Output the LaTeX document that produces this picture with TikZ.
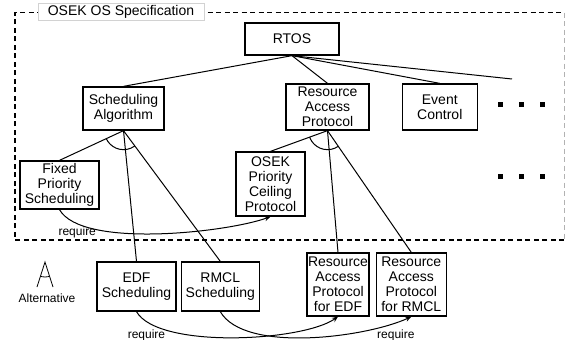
\documentclass[tikz,border=0pt]{standalone}
\usepackage{fontspec}
\setmainfont{Liberation Sans}
\usetikzlibrary{positioning,arrows.meta}

\begin{document}
\begin{tikzpicture}[x=1pt, y=1pt,
  font=\fontsize{14}{15}\selectfont,
  feat/.style={draw, line width=1.3pt, align=center, inner sep=1pt},
  edge/.style={line width=1pt},
  req/.style={-{Stealth[length=6pt, width=5pt]}, line width=1pt, looseness=0.55},
  wlab/.style={font=\fontsize{12}{13}\selectfont, inner sep=1pt},
  frame/.style={dash pattern=on 5pt off 3.5pt, line width=1.3pt}]
\useasboundingbox (0,0) rectangle (566,-340);
% feature boundary
\draw[frame] (564,-240) -- (15,-240) -- (15,-12.5) -- (564,-12.5);
\draw[frame, gray!60, line width=0.8pt] (564,-12.5) -- (564,-240);
\node[draw=gray!35, fill=white, inner sep=1.5pt, minimum width=166pt, minimum height=17pt] (spec) at (121,-11.5) {OSEK OS Specification};
% features
\node[feat, minimum width=94pt, minimum height=32pt] (rtos) at (292,-39) {RTOS};
\node[feat, minimum width=81pt, minimum height=43pt] (sched) at (123.5,-108.5) {Scheduling\\Algorithm};
\node[feat, minimum width=83pt, minimum height=46pt] (rap) at (327.5,-107) {Resource\\Access\\Protocol};
\node[feat, minimum width=75pt, minimum height=46pt, right=32pt of rap] (event) {Event\\Control};
\node (moreA) at (521.5,-104) {\rule{5pt}{5pt}\hspace{16pt}\rule{5pt}{5pt}\hspace{16pt}\rule{5pt}{5pt}};
\node (moreB) at (521.5,-176.5) {\rule{5pt}{5pt}\hspace{16pt}\rule{5pt}{5pt}\hspace{16pt}\rule{5pt}{5pt}};
\coordinate (moreTop) at (512,-79);
\node[feat, minimum width=79pt, minimum height=48pt] (fixed) at (59.5,-185) {Fixed\\Priority\\Scheduling};
\node[feat, minimum width=69pt, minimum height=64pt] (pcp) at (270.5,-184) {OSEK\\Priority\\Ceiling\\Protocol};
\node[feat, minimum width=79pt, minimum height=49pt] (edf) at (136.5,-286.5) {EDF\\Scheduling};
\node[feat, minimum width=78pt, minimum height=49pt, right=4pt of edf] (rmcl) {RMCL\\Scheduling};
\node[feat, minimum width=62pt, minimum height=63pt] (rapedf) at (338,-284.5) {Resource\\Access\\Protocol\\for EDF};
\node[feat, minimum width=70pt, minimum height=63pt, right=6pt of rapedf] (raprmcl) {Resource\\Access\\Protocol\\for RMCL};
% tree edges
\draw[edge] (rtos.south) -- (sched.north);
\draw[edge] (rtos.south) -- (rap.north);
\draw[edge] (rtos.south) -- (event.north);
\draw[edge] (rtos.south) -- (moreTop);
\draw[edge] (sched.south) -- (fixed.north);
\draw[edge] (sched.south) -- (edf.north);
\draw[edge] (sched.south) -- (rmcl.north);
\draw[edge] (rap.south) -- (pcp.north);
\draw[edge] (rap.south) -- (rapedf.north);
\draw[edge] (rap.south) -- (raprmcl.north);
% alternative arcs
\begin{scope}
  \clip (sched.south) -- (fixed.north) -- (rmcl.north) -- cycle;
  \draw[edge] (sched.south) circle[radius=19pt];
\end{scope}
\begin{scope}
  \clip (rap.south) -- (pcp.north) -- (raprmcl.north) -- cycle;
  \draw[edge] (rap.south) circle[radius=19pt];
\end{scope}
% require relations
\draw[req] (fixed.south) to[out=-60, in=-160] node[wlab, pos=0.15, below=2pt]{require} (pcp.south);
\draw[req] (edf.south) to[out=-60, in=-145] node[wlab, pos=0.1, below=7pt]{require} (rapedf.south);
\draw[req, looseness=0.65] (rmcl.south) to[out=-60, in=-155] node[wlab, pos=0.9, below=6pt]{require} (raprmcl.south);
% legend
\coordinate (altTop) at (45,-262);
\coordinate (altL) at (37,-287);
\coordinate (altR) at (53,-287);
\draw[line width=0.8pt] (altL) -- (altTop) -- (altR);
\begin{scope}
  \clip (altTop) -- (altL) -- (altR) -- cycle;
  \draw[line width=0.8pt] (altTop) circle[radius=15pt];
\end{scope}
\node[wlab] (altlab) at (47,-298) {Alternative};
\end{tikzpicture}
\end{document}
